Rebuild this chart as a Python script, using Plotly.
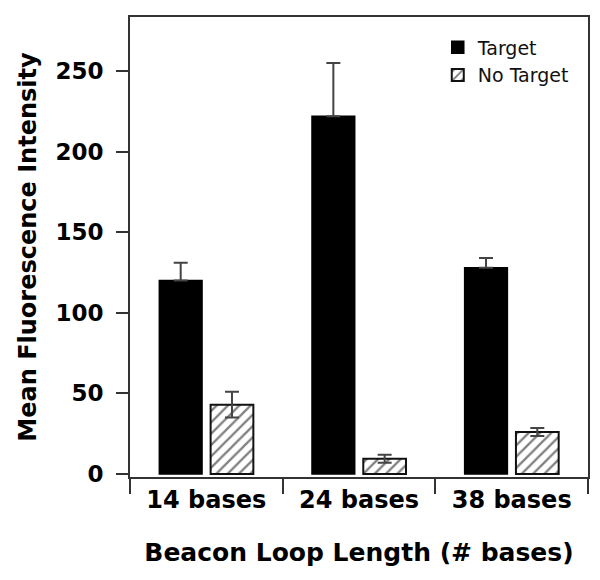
import plotly.graph_objects as go

categories = ["14 bases", "24 bases", "38 bases"]
target_values = [120, 222, 128]
target_errors = [11, 33, 6]
no_target_values = [43, 9.5, 26]
no_target_errors = [8, 2.5, 2.5]
y_tick_values = [0, 50, 100, 150, 200, 250]

AXIS_COLOR = "#333333"
ERR_COLOR = "#444444"

fig = go.Figure()
fig.add_trace(go.Bar(
    name="Target", x=categories, y=target_values,
    marker=dict(color="black", line=dict(color="black", width=1.5)),
    error_y=dict(type="data", symmetric=False, array=target_errors,
                 arrayminus=[0] * len(target_errors), visible=True,
                 color=ERR_COLOR, thickness=2, width=7),
))
fig.add_trace(go.Bar(
    name="No Target", x=categories, y=no_target_values,
    marker=dict(color="white", line=dict(color="#111111", width=2),
                pattern=dict(shape="/", fgcolor="black", bgcolor="white",
                             size=8, solidity=0.28)),
    error_y=dict(type="data", array=no_target_errors, visible=True,
                 color=ERR_COLOR, thickness=2, width=7),
))

fig.update_layout(
    width=592, height=572,
    margin=dict(l=122, r=12, t=9, b=103, autoexpand=False),
    paper_bgcolor="white", plot_bgcolor="white",
    barmode="group", bargap=0.328, bargroupgap=0.167,
    showlegend=True,
    legend=dict(x=0.672, y=0.975, xanchor="left", yanchor="top",
                bgcolor="rgba(0,0,0,0)", borderwidth=0,
                font=dict(family="DejaVu Sans", size=19, color="#111111"),
                tracegroupgap=0),
    font=dict(family="DejaVu Sans", color="black"),
)

fig.update_xaxes(
    type="category", range=[-0.5, 2.5], automargin=False,
    showline=True, linecolor=AXIS_COLOR, linewidth=2, mirror=True,
    ticks="outside", tickson="boundaries", ticklen=15, tickwidth=2,
    tickcolor=AXIS_COLOR,
    tickfont=dict(family="DejaVu Sans", size=24, weight="bold", color="black"),
    title=dict(text="Beacon Loop Length (# bases)", standoff=31,
               font=dict(family="DejaVu Sans", size=25, weight="bold", color="black")),
    showgrid=False, zeroline=False,
)
fig.update_yaxes(
    range=[-1.86, 283.5], automargin=False,
    tickvals=y_tick_values,
    showline=True, linecolor=AXIS_COLOR, linewidth=2, mirror=True,
    ticks="outside", ticklen=12, tickwidth=2, tickcolor=AXIS_COLOR,
    ticklabelstandoff=8,
    tickfont=dict(family="DejaVu Sans", size=23, weight="bold", color="black"),
    title=dict(text="Mean Fluorescence Intensity", standoff=12,
               font=dict(family="DejaVu Sans", size=24, weight="bold", color="black")),
    showgrid=False, zeroline=False,
)

fig.write_html("out.html")
